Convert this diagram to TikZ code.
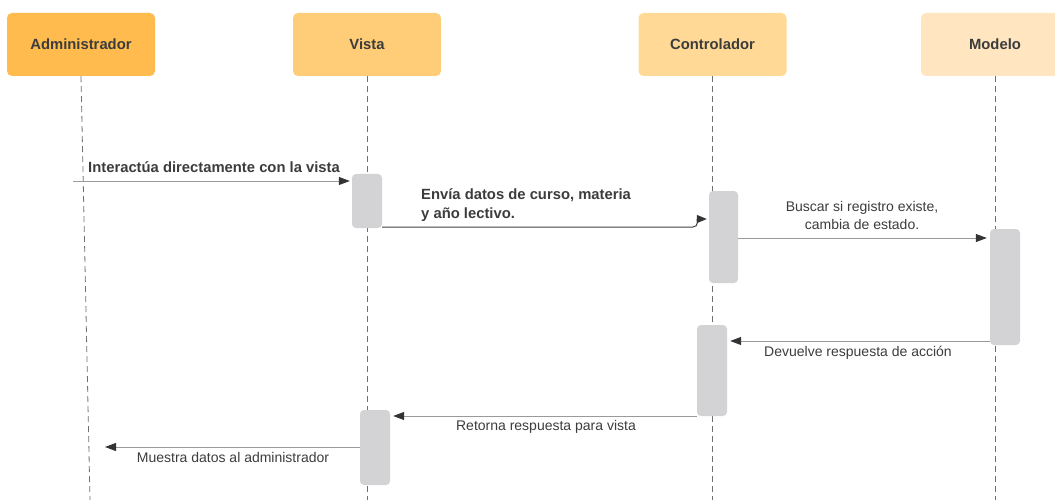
\documentclass[tikz,border=0pt]{standalone}
\usepackage{fontspec}
\setmainfont{Liberation Sans}
\usetikzlibrary{arrows.meta}
\definecolor{hdrA}{HTML}{FFBB4D}
\definecolor{hdrB}{HTML}{FFCC77}
\definecolor{hdrC}{HTML}{FFD995}
\definecolor{hdrD}{HTML}{FFE6C0}
\definecolor{actgray}{HTML}{D3D3D5}
\definecolor{txt}{HTML}{3C3C3C}
\definecolor{lline}{HTML}{707070}
\definecolor{msgline}{HTML}{9A9A9A}
\definecolor{tipc}{HTML}{333333}
\begin{document}
\begin{tikzpicture}[x=1pt,y=-1pt,
  header/.style={rectangle, rounded corners=5pt, minimum width=148pt, minimum height=63pt,
    inner sep=0pt, font=\fontsize{14.8}{17}\selectfont\bfseries, text=txt},
  act/.style={rectangle, rounded corners=4pt, fill=actgray, minimum width=30pt, inner sep=0pt},
  lifeline/.style={draw=lline, line width=0.8pt, dash pattern=on 6pt off 4pt},
  msg/.style={draw=msgline, line width=1pt, -{Triangle[length=11pt,width=8pt,color=tipc]}},
  lbl/.style={inner sep=0pt, text=txt, font=\fontsize{14}{18}\selectfont},
  blbl/.style={inner sep=0pt, text=txt, font=\fontsize{14.8}{18}\selectfont\bfseries, align=left}
]
\useasboundingbox (0,0) rectangle (1055,500);
\clip (0,0) rectangle (1055,500);
% headers
\node[header, fill=hdrA] (adm) at (81,44.5) {Administrador};
\node[header, fill=hdrB] (vis) at (367,44.5) {Vista};
\node[header, fill=hdrC] (con) at (712.5,44.5) {Controlador};
\node[header, fill=hdrD] (mod) at (995,44.5) {Modelo};
% lifelines
\coordinate (admEnd) at (90,500);
\draw[lifeline] (adm.south) -- (admEnd);
\draw[lifeline] (vis.south) -- (vis.south |- 0,500);
\draw[lifeline] (con.south) -- (con.south |- 0,500);
\draw[lifeline] (mod.south) -- (mod.south |- 0,500);
% activations
\node[act, minimum height=54pt] (v1) at (367,201) {};
\node[act, minimum width=29pt, minimum height=92pt] (c1) at (723.5,237) {};
\node[act, minimum height=116pt] (m1) at (1005,287) {};
\node[act, minimum height=91pt] (c2) at (712,370.5) {};
\node[act, minimum height=75pt] (v2) at (375,447.5) {};
% messages
\coordinate (s1) at (73,181);
\draw[msg, shorten >=2pt] (s1) -- (v1.west |- s1);
\node[blbl, anchor=base west] (l1) at (88,172) {Interactúa directamente con la vista};

\coordinate (s2) at (382,227);
\coordinate (k2) at (693,227);
\draw[draw=black!75, line width=1pt, -{Triangle[length=10pt,width=8pt,color=tipc]}, shorten >=2pt]
  (s2) -- (k2) .. controls (699,227) and (697,219) .. (c1.west |- 0,219);
\node[blbl, anchor=base west] (l2) at (421,218) {Envía datos de curso, materia\\y año lectivo.};

\draw[msg, shorten >=3pt] (c1.east |- 0,238) -- (m1.west |- 0,238);
\node[lbl, align=center, anchor=base] (l3) at (862,229) {Buscar si registro existe,\\cambia de estado.};

\draw[msg, shorten >=3pt] (m1.west |- 0,341) -- (c2.east |- 0,341);
\node[lbl, anchor=base] (l4) at (858,356) {Devuelve respuesta de acción};

\draw[msg, shorten >=3pt] (c2.west |- 0,416) -- (v2.east |- 0,416);
\node[lbl, anchor=base] (l5) at (546,430) {Retorna respuesta para vista};

\coordinate (e6) at (105,447);
\draw[msg] (v2.west |- e6) -- (e6);
\node[lbl, anchor=base] (l6) at (233,462) {Muestra datos al administrador};
\end{tikzpicture}
\end{document}
